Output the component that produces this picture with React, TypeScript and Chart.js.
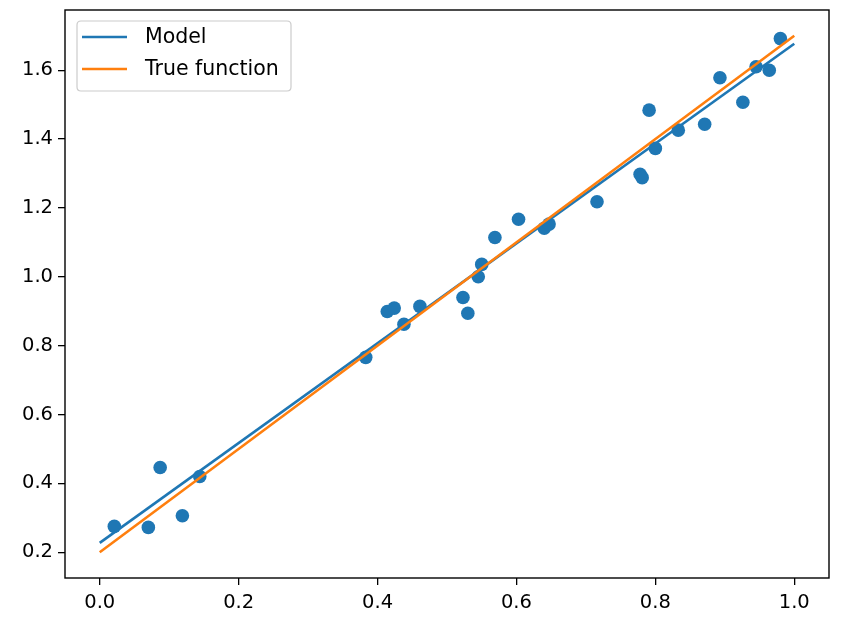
import React, { useEffect, useRef } from "react";
import { Chart, registerables } from "chart.js";

Chart.register(...registerables);

const pointX = [0.021, 0.07, 0.087, 0.119, 0.144, 0.383, 0.414, 0.424, 0.438, 0.461, 0.523, 0.53, 0.545, 0.55, 0.569, 0.603, 0.64, 0.647, 0.716, 0.778, 0.781, 0.791, 0.8, 0.833, 0.871, 0.893, 0.926, 0.945, 0.964, 0.98];
const pointY = [0.275, 0.272, 0.446, 0.306, 0.42, 0.766, 0.899, 0.909, 0.862, 0.914, 0.94, 0.894, 1.0, 1.036, 1.114, 1.167, 1.141, 1.153, 1.218, 1.298, 1.288, 1.484, 1.373, 1.426, 1.443, 1.578, 1.507, 1.61, 1.6, 1.692];
const lineX = [0, 1];
const modelY = [0.227, 1.677];
const trueY = [0.2, 1.7];
const xTicks = [0, 0.2, 0.4, 0.6, 0.8, 1.0];
const yTicks = [0.2, 0.4, 0.6, 0.8, 1.0, 1.2, 1.4, 1.6];
const legendLabels = ["Model", "True function"];

const BLUE = "#1f77b4";
const ORANGE = "#ff7f0e";
const FONT = "'DejaVu Sans', sans-serif";
const FONT_SIZE = 19.5;
const LEGEND_FONT_SIZE = 20.5;

const framePlugin = {
  id: "frameAndLegend",
  afterDraw(chart: any) {
    const ctx = chart.ctx as CanvasRenderingContext2D;
    const a = chart.chartArea;
    ctx.save();
    ctx.strokeStyle = "#000";
    ctx.lineWidth = 1.4;
    ctx.strokeRect(a.left, a.top, a.right - a.left, a.bottom - a.top);

    // legend
    const lx = a.left + 12, ly = a.top + 11, lw = 214, lh = 70, r = 4;
    ctx.beginPath();
    ctx.moveTo(lx + r, ly);
    ctx.lineTo(lx + lw - r, ly);
    ctx.quadraticCurveTo(lx + lw, ly, lx + lw, ly + r);
    ctx.lineTo(lx + lw, ly + lh - r);
    ctx.quadraticCurveTo(lx + lw, ly + lh, lx + lw - r, ly + lh);
    ctx.lineTo(lx + r, ly + lh);
    ctx.quadraticCurveTo(lx, ly + lh, lx, ly + lh - r);
    ctx.lineTo(lx, ly + r);
    ctx.quadraticCurveTo(lx, ly, lx + r, ly);
    ctx.closePath();
    ctx.fillStyle = "rgba(255,255,255,0.8)";
    ctx.fill();
    ctx.strokeStyle = "#cccccc";
    ctx.lineWidth = 1.2;
    ctx.stroke();

    const colors = [BLUE, ORANGE];
    legendLabels.forEach((label, i) => {
      const y = ly + 16 + i * 32;
      ctx.beginPath();
      ctx.strokeStyle = colors[i];
      ctx.lineWidth = 2.6;
      ctx.moveTo(lx + 5, y);
      ctx.lineTo(lx + 50, y);
      ctx.stroke();
      ctx.fillStyle = "#000";
      ctx.font = `${LEGEND_FONT_SIZE}px ${FONT}`;
      ctx.textBaseline = "middle";
      ctx.textAlign = "left";
      ctx.fillText(label, lx + 68, y + 1);
    });
    ctx.restore();
  },
};

export default function App() {
  const ref = useRef<HTMLCanvasElement | null>(null);
  useEffect(() => {
    document.body.style.margin = "0";
    if (!ref.current) return;
    const chart = new Chart(ref.current, {
      type: "scatter",
      data: {
        datasets: [
          {
            label: legendLabels[1],
            data: lineX.map((x, i) => ({ x, y: trueY[i] })),
            showLine: true,
            borderColor: ORANGE,
            borderWidth: 2.6,
            pointRadius: 0,
            order: 0,
          },
          {
            label: legendLabels[0],
            data: lineX.map((x, i) => ({ x, y: modelY[i] })),
            showLine: true,
            borderColor: BLUE,
            borderWidth: 2.6,
            pointRadius: 0,
            order: 1,
          },
          {
            label: "Data",
            data: pointX.map((x, i) => ({ x, y: pointY[i] })),
            backgroundColor: BLUE,
            borderColor: BLUE,
            borderWidth: 0,
            pointRadius: 6.8,
            order: 2,
          },
        ],
      },
      options: {
        responsive: false,
        animation: false,
        devicePixelRatio: 1,
        layout: { padding: { left: 0, top: 10, right: 24, bottom: 0 } },
        plugins: { legend: { display: false }, tooltip: { enabled: false } },
        scales: {
          x: {
            type: "linear",
            min: -0.05,
            max: 1.05,
            afterBuildTicks: (s: any) => {
              s.ticks = xTicks.map((v) => ({ value: v }));
            },
            afterFit: (s: any) => {
              s.height = 50;
              s.paddingLeft = 0;
              s.paddingRight = 0;
            },
            grid: { display: true, drawOnChartArea: false, drawTicks: true, tickLength: 7, color: "#000", lineWidth: 1.3 },
            border: { display: false },
            ticks: {
              padding: 6,
              color: "#000",
              font: { family: FONT, size: FONT_SIZE },
              callback: (v: any) => Number(v).toFixed(1),
              maxRotation: 0,
              autoSkip: false,
            },
          },
          y: {
            type: "linear",
            min: 0.125,
            max: 1.775,
            afterBuildTicks: (s: any) => {
              s.ticks = yTicks.map((v) => ({ value: v }));
            },
            afterFit: (s: any) => {
              s.width = 65;
              s.paddingTop = 0;
              s.paddingBottom = 0;
            },
            grid: { display: true, drawOnChartArea: false, drawTicks: true, tickLength: 7, color: "#000", lineWidth: 1.3 },
            border: { display: false },
            ticks: {
              padding: 5,
              color: "#000",
              font: { family: FONT, size: FONT_SIZE },
              callback: (v: any) => Number(v).toFixed(1),
              autoSkip: false,
            },
          },
        },
      },
      plugins: [framePlugin],
    } as any);
    return () => chart.destroy();
  }, []);
  return (
    <div style={{ position: "absolute", left: 0, top: 0, width: 853, height: 628, background: "#fff" }}>
      <canvas ref={ref} width={853} height={628} style={{ width: 853, height: 628 }} />
    </div>
  );
}
